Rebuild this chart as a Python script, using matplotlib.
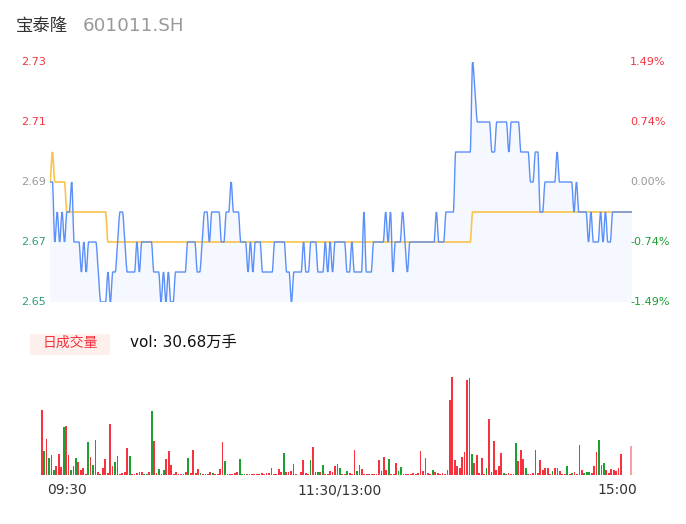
import numpy as np
import matplotlib
matplotlib.use('Agg')
import matplotlib.pyplot as plt
from matplotlib.patches import Rectangle, PathPatch
from matplotlib.path import Path

plt.rcParams['font.family'] = ['DejaVu Sans', 'Noto Sans CJK SC']

# ---- data ----
name = '宝泰隆'
code = '601011.SH'
pre_close = 2.69

# minute price, run-length (level, number of minutes)
price_levels = [2.69, 2.67, 2.68, 2.67, 2.68, 2.67, 2.68, 2.69, 2.67, 2.66, 2.67, 2.66, 2.67, 2.66,
                2.65, 2.66, 2.65, 2.66, 2.67, 2.68, 2.67, 2.66, 2.67, 2.66, 2.67, 2.66, 2.65, 2.66,
                2.65, 2.66, 2.65, 2.66, 2.67, 2.66, 2.67, 2.68, 2.67, 2.68, 2.67, 2.68, 2.69, 2.68,
                2.67, 2.66, 2.67, 2.66, 2.67, 2.66, 2.67, 2.66, 2.65, 2.66, 2.67, 2.66, 2.67, 2.66,
                2.67, 2.66, 2.67, 2.66, 2.67, 2.66, 2.67, 2.66, 2.68, 2.66, 2.67, 2.68, 2.67, 2.68,
                2.66, 2.67, 2.68, 2.67, 2.66, 2.67, 2.68, 2.67, 2.68, 2.70, 2.73, 2.72, 2.71, 2.70,
                2.71, 2.70, 2.71, 2.70, 2.69, 2.70, 2.68, 2.69, 2.70, 2.69, 2.68, 2.69, 2.68, 2.67,
                2.68, 2.67, 2.68, 2.67, 2.68, 2.67, 2.68]
price_runs = [2, 1, 1, 1, 1, 1, 2, 1, 3, 1, 1, 1, 4, 1,
              3, 1, 1, 2, 1, 2, 1, 4, 1, 1, 5, 3, 1, 1,
              1, 1, 2, 5, 4, 2, 1, 2, 1, 4, 2, 2, 1, 3,
              3, 1, 1, 1, 3, 5, 5, 2, 1, 4, 1, 2, 3, 3,
              1, 1, 1, 1, 5, 2, 1, 4, 1, 3, 5, 1, 1, 1,
              1, 3, 1, 1, 1, 11, 1, 3, 4, 7, 1, 1, 6, 2,
              5, 1, 4, 4, 2, 2, 2, 5, 1, 6, 1, 1, 4, 1,
              1, 3, 1, 1, 1, 2, 9]

avg_levels = [2.69, 2.70, 2.69, 2.68, 2.67, 2.68]
avg_runs = [1, 1, 5, 17, 151, 67]

volumes = [65, 24, 36, 17, 20, 5, 9, 21, 8, 48, 49, 20, 5, 9, 17, 13, 5, 7, 1, 33,
           18, 10, 35, 3, 1, 7, 16, 2, 51, 9, 13, 19, 1, 2, 3, 27, 19, 1, 1, 2,
           3, 3, 1, 1, 3, 64, 34, 2, 6, 1, 5, 16, 24, 10, 1, 3, 1, 1, 1, 3,
           17, 2, 25, 2, 6, 2, 1, 1, 1, 3, 2, 1, 1, 6, 33, 14, 1, 1, 1, 2,
           3, 16,
           1, 1, 1, 1, 1, 1, 1, 1, 2, 1, 2, 2, 7, 1, 1, 6, 3, 22, 3, 3,
           4, 11, 1, 0.5, 3, 15, 2, 1, 15, 28, 3, 3, 3, 10, 1, 1, 4, 3, 9, 11,
           7, 1, 1, 4, 2, 1, 25, 4, 10, 6, 1, 1, 1, 1, 1, 1, 15, 4, 18, 5,
           16, 1, 1, 12, 4, 8, 1, 1, 1, 1, 2, 1, 2, 24, 4, 17, 2, 1, 5, 3,
           2, 1, 2, 1, 5,
           75, 98, 15,
           9, 7, 18, 23, 95, 97, 21, 12, 20, 2, 17, 1, 7, 56, 3, 34, 5, 9, 22, 2,
           1, 2, 1, 1, 32, 14, 25, 16, 7, 1, 1, 2, 25, 2, 15, 5, 7, 7, 1, 4,
           7, 7, 4, 1, 1, 9, 1, 2, 3, 1, 30, 5, 2, 3, 3, 2, 9, 23, 35, 10,
           12, 5, 2, 6, 5, 4, 7, 21,
           0.5, 0.5, 0.5, 29]
vol_dir = ('rgrgrgrrrg' 'rrgrgrrrrg' 'rgrrgrrrrr' 'ggrrrrgrrr' 'rrggrgrrgr'
           'grrrrrrrrr' 'grrrrgrrrr' 'grrrrgrrrr' 'rg'
           'ggrrrrrrrr' 'rrrrrrrgrr' 'rrrrrrrrgr' 'ggrgrrrrrr' 'grrgrrrggr'
           'rrrrrrrgrr' 'grrrggrrrr' 'rrrrrrrrgr' 'rrrrr'
           'rrr'
           'rrrrrggrrr' 'rrgrrrrrrg' 'rrrrgrrrgr' 'rrgrrrrrrg' 'rrrrrgrgrr'
           'rrgggrrrgr' 'grrrrrrr'
           'rrrr')

labels_time = ['09:30', '11:30/13:00', '15:00']

# ---- series ----
price = np.repeat(price_levels, price_runs)
avg = np.repeat(avg_levels, avg_runs)
t = np.arange(len(price))


def smooth_path(x, y, base=None):
    # monotone cubic bezier through the points (like a smoothed line chart)
    x = np.asarray(x, float)
    y = np.asarray(y, float)
    d = np.diff(y) / np.diff(x)
    m = np.zeros(len(y))
    for i in range(1, len(y) - 1):
        if d[i - 1] * d[i] > 0:
            m[i] = 2 / (1 / d[i - 1] + 1 / d[i])
    verts = [(x[0], y[0])]
    codes = [Path.MOVETO]
    for i in range(len(x) - 1):
        h = (x[i + 1] - x[i]) / 3
        verts += [(x[i] + h, y[i] + m[i] * h), (x[i + 1] - h, y[i + 1] - m[i + 1] * h),
                  (x[i + 1], y[i + 1])]
        codes += [Path.CURVE4] * 3
    if base is not None:
        verts += [(x[-1], base), (x[0], base), (x[0], y[0])]
        codes += [Path.LINETO, Path.LINETO, Path.CLOSEPOLY]
    return Path(verts, codes)


W, H = 686, 524
fig = plt.figure(figsize=(W / 100, H / 100), dpi=100)


def box(x0, y0, x1, y1):
    return [x0 / W, 1 - y1 / H, (x1 - x0) / W, (y1 - y0) / H]


RED = '#f5333f'
GREEN = '#1aa033'

# price panel
ax = fig.add_axes(box(50, 62, 632, 302))
ax.add_patch(PathPatch(smooth_path(t, price, base=2.65), facecolor='#f5f8fe', lw=0))
ax.add_patch(PathPatch(smooth_path(t, avg), facecolor='none', edgecolor='#fbc34a', lw=1.2))
ax.add_patch(PathPatch(smooth_path(t, price), facecolor='none', edgecolor='#5b8ff9', lw=1.0))
ax.set_xlim(0, len(price) - 1)
ax.set_ylim(2.65, 2.73)
ax.axis('off')

left_ticks = [2.73, 2.71, 2.69, 2.67, 2.65]
for v in left_ticks:
    pct = (v - pre_close) / pre_close * 100
    if v > pre_close:
        c_l, c_r = RED, RED
    elif v < pre_close:
        c_l, c_r = '#2f9e74', GREEN
    else:
        c_l, c_r = '#999999', '#999999'
    ax.text(-0.007, v, '%.2f' % v, transform=ax.get_yaxis_transform(),
            ha='right', va='center', fontsize=8, color=c_l, clip_on=False)
    ax.text(0.9966, v, '%.2f%%' % pct, transform=ax.get_yaxis_transform(),
            ha='left', va='center', fontsize=8, color=c_r, clip_on=False)

# volume panel
vax = fig.add_axes(box(40.2, 375, 632.2, 475))
colors = []
for i, d in enumerate(vol_dir):
    c = RED if d == 'r' else GREEN
    if i == len(vol_dir) - 1:
        c = '#ff9e9e'
    colors.append(c)
vax.bar(np.arange(len(volumes)), volumes, width=0.72, color=colors, lw=0)
vax.set_xlim(-0.6, len(volumes) - 0.4)
vax.set_ylim(0, 100)
vax.axis('off')

# texts
fig.text(16 / W, 1 - 26 / H, name, fontsize=12.5, color='#333333', va='center',
         family=['Noto Sans CJK SC'])
fig.text(83 / W, 1 - 26 / H, code, fontsize=13.2, color='#999999', va='center')

fig.patches.append(Rectangle((30 / W, 1 - 355 / H), 80 / W, 21 / H,
                             transform=fig.transFigure, color='#fdf0ec', lw=0))
fig.text(70 / W, 1 - 343 / H, '日成交量', fontsize=10, color=RED, ha='center', va='center',
         family=['Noto Sans CJK SC'])
fig.text(130 / W, 1 - 342 / H, 'vol: 30.68万手', fontsize=11, color='#111111', va='center')

fig.text(47 / W, 1 - 490 / H, labels_time[0], fontsize=10, color='#333333', ha='left', va='center')
fig.text(340 / W, 1 - 490 / H, labels_time[1], fontsize=10, color='#333333', ha='center', va='center')
fig.text(637 / W, 1 - 490 / H, labels_time[2], fontsize=10, color='#333333', ha='right', va='center')

fig.savefig('out.png', dpi=100)
